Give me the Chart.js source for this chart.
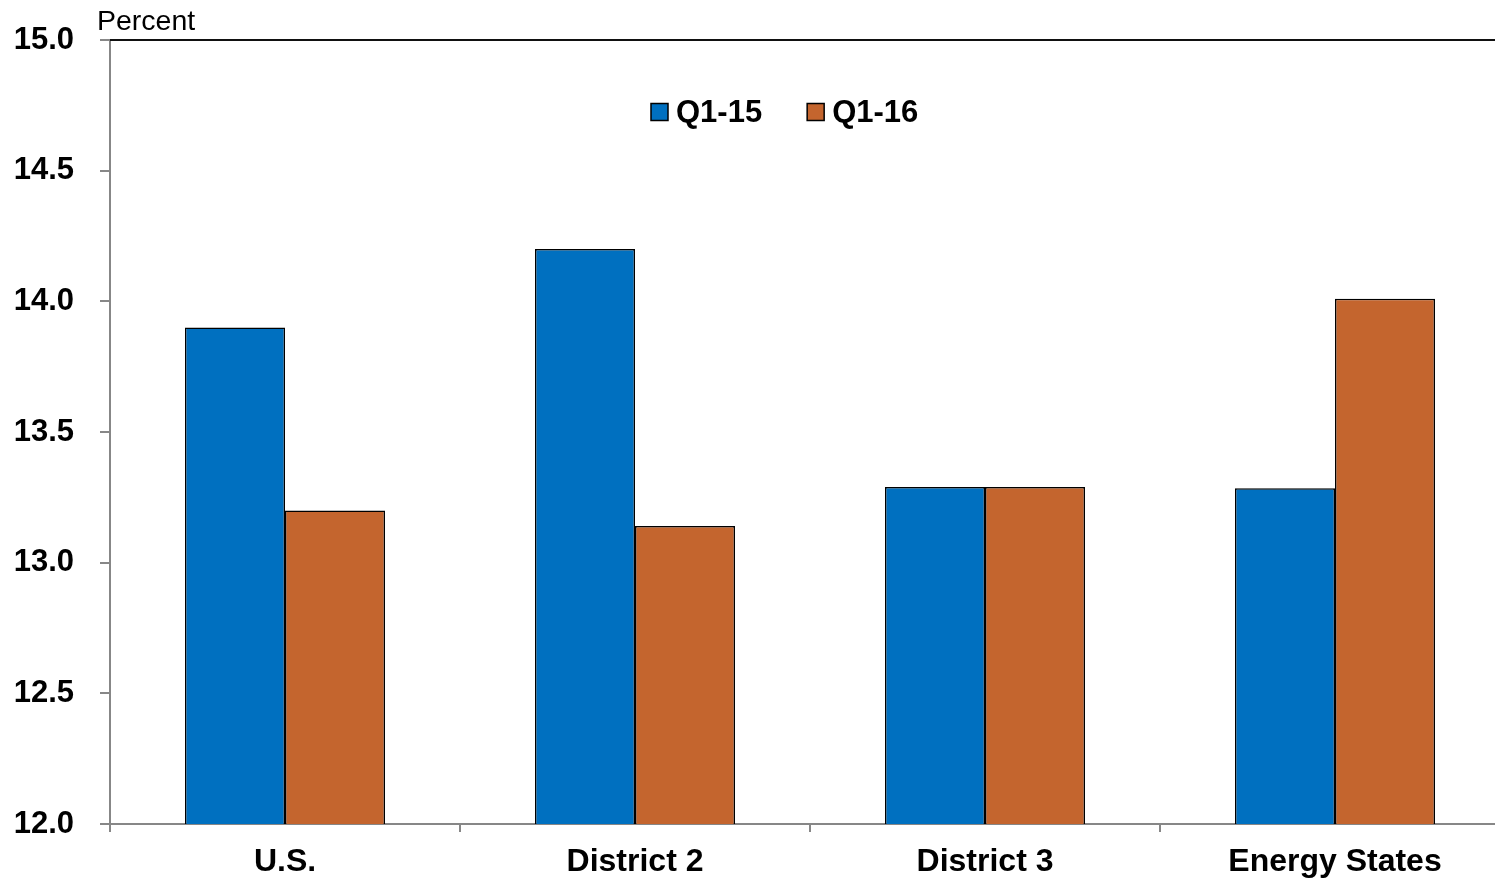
<!DOCTYPE html>
<html>
<head>
<meta charset="utf-8">
<script src="https://cdn.jsdelivr.net/npm/chart.js@4.4.1/dist/chart.umd.min.js"></script>
<style>
  html, body { margin: 0; padding: 0; background: #fff; overflow: hidden; }
  #wrap { position: relative; width: 1520px; height: 878px; }
</style>
</head>
<body>
<div id="wrap"><canvas id="c"></canvas></div>
<script>
const categories = ['U.S.', 'District 2', 'District 3', 'Energy States'];
const seriesNames = ['Q1-15', 'Q1-16'];
const q115 = [13.9, 14.2, 13.29, 13.285];
const q116 = [13.2, 13.14, 13.29, 14.01];
const yMin = 12.0, yMax = 15.0, yStep = 0.5;
const unitLabel = 'Percent';

const BLUE = '#0070C0';
const ORANGE = '#C4652E';
const GRAY = '#878787';
const FONT = "'Liberation Sans', Arial, sans-serif";

const decor = {
  id: 'decor',
  afterDraw(chart) {
    const ctx = chart.ctx;
    const a = chart.chartArea;
    ctx.save();
    // top frame line
    ctx.strokeStyle = '#111';
    ctx.lineWidth = 2;
    ctx.beginPath();
    ctx.moveTo(a.left, a.top);
    ctx.lineTo(a.right, a.top);
    ctx.stroke();
    // unit label
    ctx.fillStyle = '#000';
    ctx.font = '28.5px ' + FONT;
    ctx.textAlign = 'left';
    ctx.textBaseline = 'alphabetic';
    ctx.fillText(unitLabel, 97, 30);
    // legend
    ctx.font = 'bold 31px ' + FONT;
    ctx.textBaseline = 'middle';
    let x = 651;
    const cy = 112;
    chart.data.datasets.forEach((ds) => {
      ctx.fillStyle = ds.backgroundColor;
      ctx.fillRect(x, cy - 8.5, 17, 17);
      ctx.strokeStyle = '#000';
      ctx.lineWidth = 1.5;
      ctx.strokeRect(x, cy - 8.5, 17, 17);
      ctx.fillStyle = '#000';
      ctx.fillText(ds.label, x + 25, cy + 1);
      x += 25 + ctx.measureText(ds.label).width + 45;
    });
    ctx.restore();
  }
};

new Chart(document.getElementById('c'), {
  type: 'bar',
  data: {
    labels: categories,
    datasets: [
      { label: seriesNames[0], data: q115, backgroundColor: BLUE, borderColor: '#000', borderWidth: 1.5, borderSkipped: 'bottom' },
      { label: seriesNames[1], data: q116, backgroundColor: ORANGE, borderColor: '#000', borderWidth: 1.5, borderSkipped: 'bottom' }
    ]
  },
  options: {
    responsive: true,
    maintainAspectRatio: false,
    animation: false,
    layout: { padding: { top: 40, right: 10, left: 0, bottom: 0 } },
    datasets: { bar: { categoryPercentage: 200 / 350, barPercentage: 1.0 } },
    plugins: { legend: { display: false }, tooltip: { enabled: false }, title: { display: false } },
    scales: {
      x: {
        offset: true,
        grid: { offset: true, drawOnChartArea: false, color: GRAY, tickLength: 8, lineWidth: 2 },
        border: { color: GRAY, width: 2 },
        ticks: { color: '#000', font: { family: FONT, size: 32, weight: 'bold' }, padding: 11, maxRotation: 0 },
        afterFit(s) { s.height = 54; }
      },
      y: {
        min: yMin, max: yMax,
        grid: { drawOnChartArea: false, color: GRAY, tickLength: 10, lineWidth: 2 },
        border: { color: GRAY, width: 2 },
        ticks: {
          stepSize: yStep,
          color: '#000',
          padding: 26,
          font: { family: FONT, size: 31, weight: 'bold' },
          callback: (v) => Number(v).toFixed(1)
        },
        afterFit(s) { s.width = 110; s.paddingTop = 0; s.paddingBottom = 0; }
      }
    }
  },
  plugins: [decor]
});
</script>
</body>
</html>
